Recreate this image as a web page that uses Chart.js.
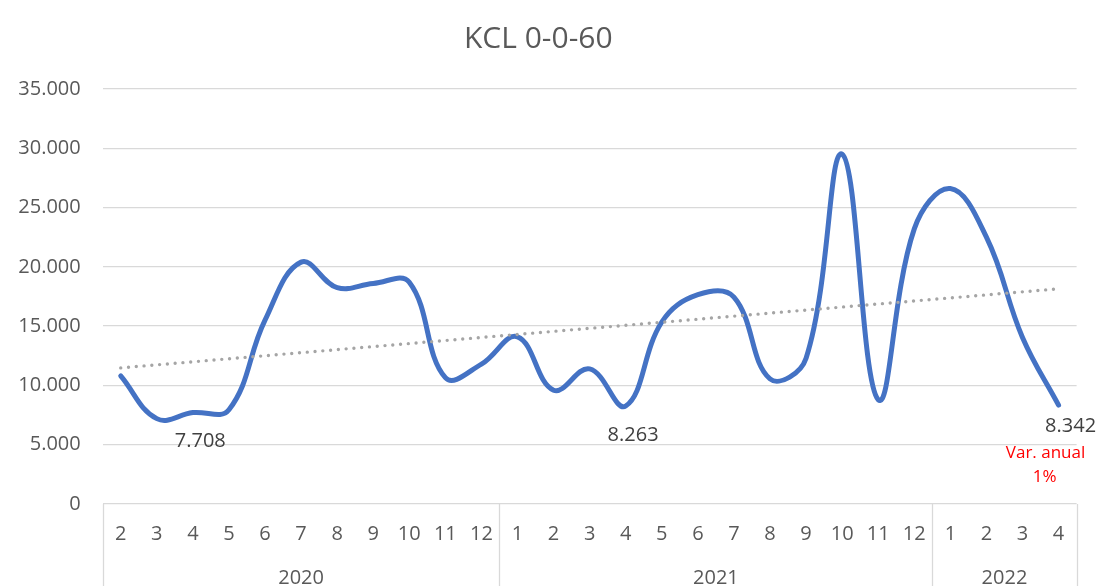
<!DOCTYPE html>
<html>
<head>
<meta charset="utf-8">
<title>KCL 0-0-60</title>
<script src="https://cdn.jsdelivr.net/npm/chart.js@4/dist/chart.umd.min.js"></script>
<style>
  html, body { margin: 0; padding: 0; background: #ffffff; }
  canvas { display: block; }
</style>
</head>
<body>
<canvas id="chart" width="1096" height="586"></canvas>
<script>
// ---- data ----
const chartTitle = 'KCL 0-0-60';
const years = ['2020', '2021', '2022'];
const monthsByYear = [
  ['2', '3', '4', '5', '6', '7', '8', '9', '10', '11', '12'],
  ['1', '2', '3', '4', '5', '6', '7', '8', '9', '10', '11', '12'],
  ['1', '2', '3', '4']
];
const volumes = [
  10800, 7200, 7708, 7950, 15500, 20400, 18250, 18600, 18700, 10650, 11800,
  14100, 9600, 11400, 8263, 15350, 17650, 17450, 10550, 12300, 29500, 8800, 23200,
  26600, 22500, 14050, 8342
];
const trendFirstLast = [11480, 18150];
const labeledPoints = [2, 14, 26];
const yearChangeNote = ['Var. anual', '1%'];
const yMin = 0, yMax = 35000, yStep = 5000;

// ---- derived structures ----
const monthLabels = monthsByYear.flat();
const groupBounds = [0];
monthsByYear.forEach(m => groupBounds.push(groupBounds[groupBounds.length - 1] + m.length));
const trendData = monthLabels.map(() => null);
trendData[0] = trendFirstLast[0];
trendData[trendData.length - 1] = trendFirstLast[1];

const fmt = v => String(v).replace(/\B(?=(\d{3})+(?!\d))/g, '.');

const FONT = "'Open Sans', sans-serif";
const TEXT = '#595959';
const GRID = '#D9D9D9';

Chart.defaults.font.family = FONT;
Chart.defaults.color = TEXT;

// year row beneath the month ticks, with separators between years
const yearAxis = {
  id: 'yearAxis',
  afterDraw(chart) {
    const { ctx, chartArea, scales } = chart;
    const xs = scales.x;
    const bottom = chart.height;
    ctx.save();
    ctx.strokeStyle = GRID;
    ctx.lineWidth = 1.3;
    groupBounds.forEach(b => {
      const x = Math.round(xs.getPixelForValue(b - 0.5)) + 0.5;
      ctx.beginPath();
      ctx.moveTo(x, chartArea.bottom);
      ctx.lineTo(x, bottom);
      ctx.stroke();
    });
    ctx.fillStyle = TEXT;
    ctx.font = '20px ' + FONT;
    ctx.textAlign = 'center';
    ctx.textBaseline = 'middle';
    years.forEach((y, i) => {
      const x0 = xs.getPixelForValue(groupBounds[i] - 0.5);
      const x1 = xs.getPixelForValue(groupBounds[i + 1] - 0.5);
      ctx.fillText(y, (x0 + x1) / 2, 578);
    });
    ctx.restore();
  }
};

// value labels on selected points and the yearly change note
const pointNotes = {
  id: 'pointNotes',
  afterDatasetsDraw(chart) {
    const { ctx } = chart;
    const meta = chart.getDatasetMeta(1);
    ctx.save();
    ctx.textAlign = 'center';
    ctx.textBaseline = 'middle';
    ctx.font = '20px ' + FONT;
    ctx.fillStyle = '#404040';
    const last = volumes.length - 1;
    labeledPoints.forEach(i => {
      const p = meta.data[i];
      if (i === last) {
        ctx.fillText(fmt(volumes[i]), p.x + 12, p.y + 21);
      } else {
        ctx.fillText(fmt(volumes[i]), p.x + 7.4, p.y + 29);
      }
    });
    const pl = meta.data[last];
    ctx.fillStyle = '#FF0000';
    ctx.font = '17px ' + FONT;
    ctx.fillText(yearChangeNote[0], pl.x - 13, pl.y + 48);
    ctx.fillText(yearChangeNote[1], pl.x - 14, pl.y + 72.5);
    ctx.restore();
  }
};

new Chart(document.getElementById('chart'), {
  type: 'line',
  data: {
    labels: monthLabels,
    datasets: [
      {
        label: 'Tendencia',
        data: trendData,
        spanGaps: true,
        borderColor: '#A5A5A5',
        borderWidth: 3.4,
        borderDash: [0, 7.8],
        borderCapStyle: 'round',
        pointRadius: 0,
        tension: 0,
        fill: false
      },
      {
        label: chartTitle,
        data: volumes,
        borderColor: '#4472C4',
        borderWidth: 5,
        borderCapStyle: 'round',
        borderJoinStyle: 'round',
        pointRadius: 0,
        pointHoverRadius: 0,
        tension: 0.4,
        fill: false,
        clip: false
      }
    ]
  },
  options: {
    responsive: false,
    devicePixelRatio: 1,
    animation: false,
    events: [],
    layout: { padding: { left: 0, right: 19.4, top: 0, bottom: 0 } },
    plugins: {
      legend: { display: false },
      tooltip: { enabled: false },
      title: {
        display: true,
        text: chartTitle,
        color: TEXT,
        font: { family: FONT, size: 30, weight: 'normal', lineHeight: 1.2 },
        padding: { top: 21.5, bottom: 31.5 }
      }
    },
    scales: {
      x: {
        offset: true,
        grid: { display: false, drawTicks: false },
        border: { display: false },
        ticks: {
          color: TEXT,
          font: { family: FONT, size: 20, lineHeight: 1.2 },
          padding: 18.5,
          maxRotation: 0,
          autoSkip: false
        },
        afterFit(scale) { scale.height = 82; }
      },
      y: {
        min: yMin,
        max: yMax,
        grid: { color: GRID, lineWidth: 1.3, drawTicks: false },
        border: { display: false },
        ticks: {
          stepSize: yStep,
          color: TEXT,
          font: { family: FONT, size: 20 },
          padding: 22,
          callback: v => fmt(v)
        },
        afterFit(scale) { scale.width = 102.7; }
      }
    }
  },
  plugins: [yearAxis, pointNotes]
});
</script>
</body>
</html>
